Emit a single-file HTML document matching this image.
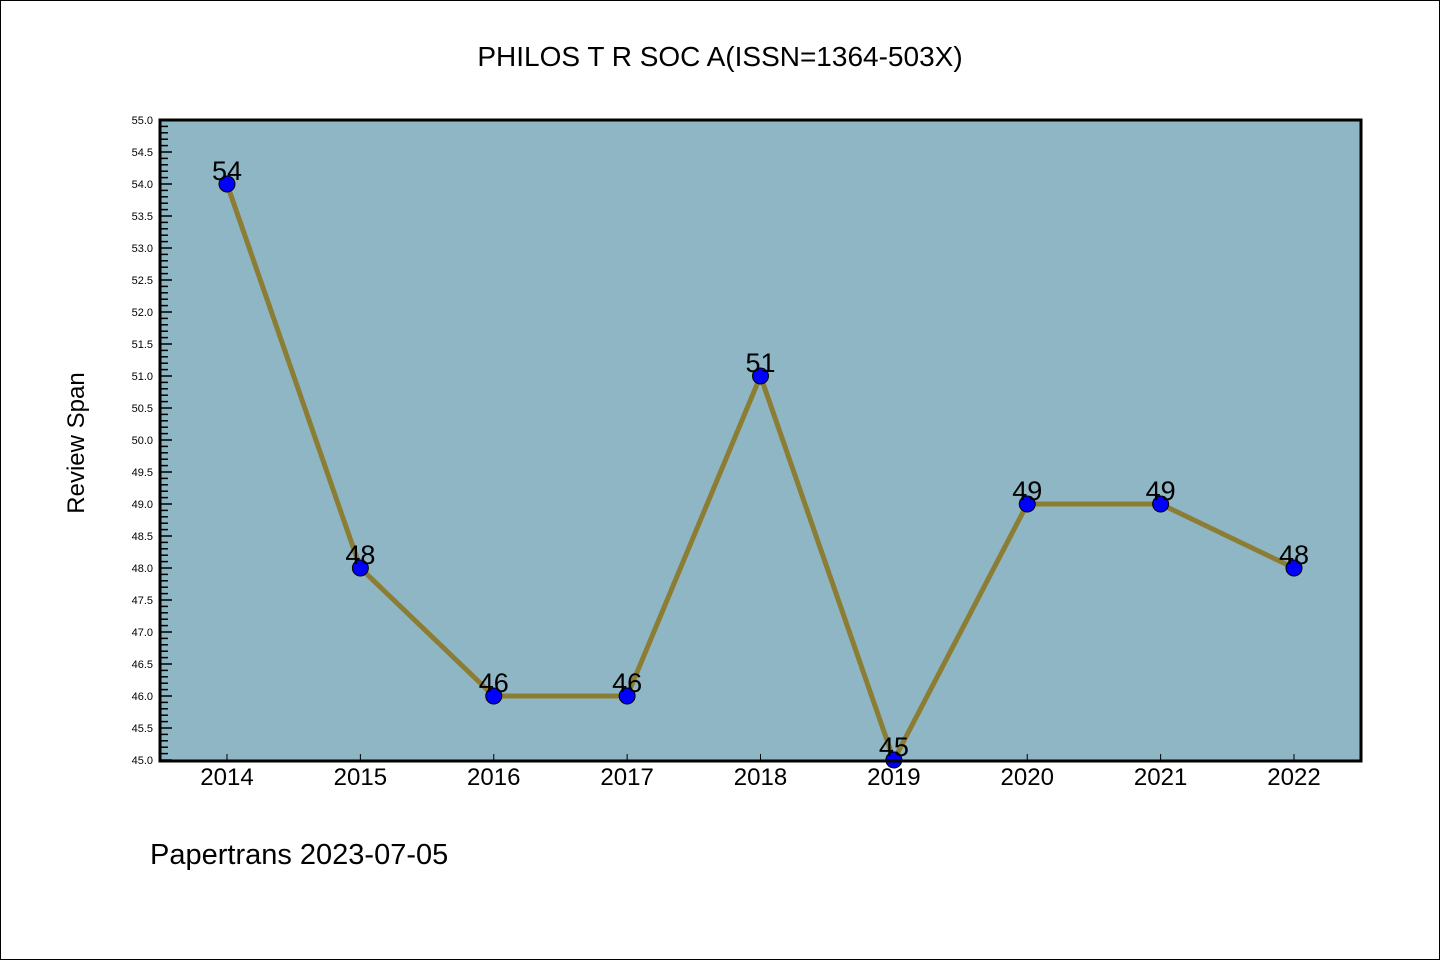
<!DOCTYPE html>
<html><head><meta charset="utf-8"><style>
body{margin:0;background:#fff}
svg{display:block}
text{font-family:"Liberation Sans","DejaVu Sans",sans-serif}
</style></head><body>
<svg width="1440" height="960" viewBox="0 0 1440 960">
<rect x="0.5" y="0.5" width="1439" height="959" fill="#fff" stroke="#000"/>
<text x="720" y="66" text-anchor="middle" font-size="28" font-family="DejaVu Sans Mono, Liberation Mono, monospace">PHILOS T R SOC A(ISSN=1364-503X)</text>
<rect x="160" y="120" width="1201" height="641" fill="#8fb6c5"/>
<g id="yaxis"></g>
<g id="xaxis"></g>
<g id="series"></g>
<rect x="160" y="120" width="1201" height="641" fill="none" stroke="#000" stroke-width="3"/>
<text transform="translate(84,443) rotate(-90)" text-anchor="middle" font-size="24" font-family="DejaVu Sans Mono, Liberation Mono, monospace">Review Span</text>
<text x="150" y="864" font-size="29" font-family="DejaVu Sans Mono, Liberation Mono, monospace">Papertrans 2023-07-05</text>
</svg>
<script>
const categories=["2014","2015","2016","2017","2018","2019","2020","2021","2022"];
const values=[54,48,46,46,51,45,49,49,48];
const yMin=45,yMax=55;
const NS="http://www.w3.org/2000/svg";
const X0=227,X1=1294,PT=120,PB=760;
function xs(i){return X0+(X1-X0)*i/(categories.length-1);}
function ys(v){return PB-(v-yMin)/(yMax-yMin)*(PB-PT);}
function mk(t,a,p){const e=document.createElementNS(NS,t);for(const k in a)e.setAttribute(k,a[k]);p.appendChild(e);return e;}
const ya=document.getElementById('yaxis');
for(let k=0;k<=100;k++){
 const v=yMin+k*0.1,y=ys(v),maj=k%5===0;
 const l=mk('line',{x1:160,x2:160+(maj?12:8),y1:y,y2:y,stroke:'#000','stroke-width':1.5},ya);
 
 
 if(maj){const t=mk('text',{x:153,y:y+4,'text-anchor':'end','font-size':11},ya);t.textContent=v.toFixed(1);
 
 }
}
const xa=document.getElementById('xaxis');
categories.forEach((c,i)=>{
 const x=xs(i);
 const l=mk('line',{x1:x,x2:x,y1:760,y2:754,stroke:'#000','stroke-width':1},xa);
 
 
 const t=mk('text',{x:x,y:785,'text-anchor':'middle','font-size':24},xa);t.textContent=c;
 
 
});
const s=document.getElementById('series');
const pl=mk('polyline',{points:values.map((v,i)=>xs(i)+','+ys(v)).join(' '),fill:'none',stroke:'#8c7d35','stroke-width':5,'stroke-linejoin':'round'},s);


values.forEach((v,i)=>{
 const c=mk('circle',{cx:xs(i),cy:ys(v),r:8,fill:'#0000ff',stroke:'#000','stroke-width':1},s);
 
 
 const t=mk('text',{x:xs(i),y:ys(v)-4,'text-anchor':'middle','font-size':27},s);t.textContent=v;
 
 
});
</script>
</body></html>
